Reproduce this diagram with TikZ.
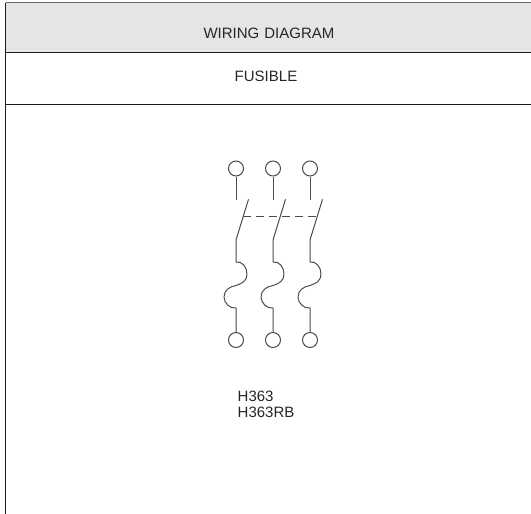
\documentclass[tikz,border=0pt]{standalone}
\usepackage{fontspec}
\setmainfont{Liberation Sans}
\tikzset{
  wire/.style={draw=black!70,line width=1pt},
  terminal/.style={circle,draw=black!70,line width=1pt,minimum size=15pt,inner sep=0pt},
  rule/.style={draw=black!90,line width=1pt},
  label/.style={inner sep=0pt,text=black!85,font=\fontsize{15}{15}\selectfont}
}
\begin{document}
\begin{tikzpicture}[x=1pt,y=-1pt]
\useasboundingbox (0,0) rectangle (531,514);
\fill[black!10] (5.5,3) rectangle (531,52.5);
\draw[draw=black!60,line width=1pt] (5.5,2.8) -- (531,2.8);
\draw[rule] (5.5,52.5) -- (531,52.5);
\draw[rule] (5.5,104.5) -- (531,104.5);
\draw[rule] (5.5,2.8) -- (5.5,514);
\node[label,anchor=base] (title) at (269,38) {WIRING\hspace{5pt}DIAGRAM};
\node[label,anchor=base] (sub) at (266,81) {FUSIBLE};
\node[label,anchor=base west] (m1) at (237.5,401.5) {H363};
\node[label,anchor=base west] (m2) at (237.5,417) {H363RB};
\foreach \n/\x in {a/236,b/273,c/310}{
  \node[terminal] (\n top) at (\x,168.5) {};
  \node[terminal] (\n bot) at (\x,340) {};
  \coordinate (\n fix) at (\x,199.5);
  \coordinate (\n pivot) at (\x,240);
  \coordinate (\n tip) at (\x+12.5,199.3);
  \coordinate (\n fa) at (\x,262);
  \coordinate (\n fb) at (\x,308);
  \draw[wire] (\n top.south) -- (\n fix);
  \draw[wire,line join=round] (\n tip) -- (\n pivot) -- (\n fa)
     .. controls (\x+6,261) and (\x+11,267) .. (\x+11,274)
     .. controls (\x+11,281) and (\x+6,283.5) .. (\x,285.5)
     .. controls (\x-6,286.5) and (\x-12,290) .. (\x-12,297)
     .. controls (\x-12,303) and (\x-6,309) .. (\n fb)
     -- (\n bot.north);
}
\coordinate (da) at (243,216.7);
\coordinate (db) at (317.5,216.7);
\draw[wire,dash pattern=on 8pt off 5pt] (da) -- (db);
\end{tikzpicture}
\end{document}
